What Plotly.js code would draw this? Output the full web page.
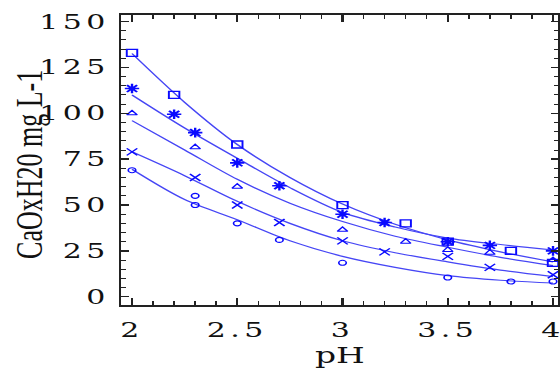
<!DOCTYPE html>
<html><head><meta charset="utf-8">
<script src="https://cdn.plot.ly/plotly-3.0.1.min.js"></script>
<style>
html,body{margin:0;padding:0;overflow:hidden;background:#fff;width:560px;height:373px}
#wrap{width:560px;height:373px;overflow:hidden;position:relative}
#chart{width:384px;height:373px;transform:scaleX(1.4973);transform-origin:0 0}
.xtick text,.ytick text{letter-spacing:3px}
</style></head><body><div id="wrap"><div id="chart"></div></div>
<script>
// measured points
const sqX = [2, 2.2, 2.5, 3, 3.3, 3.5, 3.8, 4];
const sqY = [133, 110, 83, 50, 40, 30, 25, 18.5];
const stX = [2, 2.2, 2.3, 2.5, 2.7, 3, 3.2, 3.5, 3.7, 4];
const stY = [113.5, 99.5, 89.5, 73, 60.5, 45, 40.5, 30, 28, 25];
const trX = [2, 2.3, 2.5, 3, 3.3, 3.5, 3.7, 4];
const trY = [100, 81.5, 60, 36.5, 30, 25.5, 24, 20];
const xxX = [2, 2.3, 2.5, 2.7, 3, 3.2, 3.5, 3.7, 4];
const xxY = [79, 65, 50, 40.5, 30.5, 24.5, 22, 16, 12];
const diX = [2, 2.3, 2.3, 2.5, 2.7, 3, 3.5, 3.8, 4];
const diY = [69, 55, 50, 40, 31, 18.5, 10.5, 8.3, 8.3];
// fitted curves
const curveX = [2, 2.25, 2.5, 2.75, 3, 3.25, 3.5, 3.75, 4];
const sqFit = [132.6, 106, 83, 65, 50.5, 39.5, 31, 24.5, 19];
const stFit = [110, 92, 75.5, 59.5, 46, 38, 32, 28.5, 25.5];
const trFit = [96, 80, 64, 51, 41, 33, 27, 21.5, 17];
const xxFit = [79, 66, 52, 40, 30.5, 24, 19, 14.5, 11];
const diFit = [69.5, 53, 42, 30.5, 22, 16, 11.5, 9, 7.5];
// ticks
const xTickVals = [2, 2.5, 3, 3.5, 4];
const xTickText = ['2', '2.5', '3', '3.5', '4'];
const yTickVals = [0, 25, 50, 75, 100, 125, 150];
const yTickText = ['0', '25', '50', '75', '100', '125', '150'];

const mc = '#0a0aff', lc = '#4646f5';
function line(y) {
  return {x: curveX, y: y, mode: 'lines', type: 'scatter', hoverinfo: 'skip',
    line: {color: lc, width: 1.2, shape: 'spline', smoothing: 0.9}, showlegend: false};
}
function pts(x, y, sym, size, w) {
  return {x: x, y: y, mode: 'markers', type: 'scatter', showlegend: false,
    marker: {symbol: sym, size: size, color: mc, line: {color: mc, width: w}}};
}
const data = [
  line(sqFit), line(stFit), line(trFit), line(xxFit), line(diFit),
  pts(sqX, sqY, 'square-open', 7, 1.3),
  pts(stX, stY, 'asterisk-open', 8, 1.6),
  pts(trX, trY, 'triangle-up-open', 6, 1.1),
  pts(xxX, xxY, 'x-thin-open', 7, 1.2),
  pts(diX, diY, 'circle-open', 5, 1.1),
  {x: [], y: [], xaxis: 'x2', yaxis: 'y2', type: 'scatter', mode: 'markers', showlegend: false}
];
const xRange = [1.949, 4.026], yRange = [-4.5, 153.6];
const axBase = {showline: true, linecolor: '#222', linewidth: 1.6, mirror: true,
  ticks: 'inside', tickcolor: '#222', tickwidth: 1.4, showgrid: false, zeroline: false,
  tickmode: 'array', tickfont: {family: 'DejaVu Serif', size: 20, color: '#111'}};
const xMinor = {dtick: 0.1, ticks: 'inside', ticklen: 4, tickcolor: '#222', tickwidth: 1};
const yMinor = {dtick: 5, ticks: 'inside', ticklen: 3, tickcolor: '#222', tickwidth: 1};
const layout = {
  width: 384, height: 373,
  margin: {l: 81, r: 11, t: 15, b: 68},
  paper_bgcolor: '#fff', plot_bgcolor: '#fff',
  xaxis: Object.assign({}, axBase, {
    range: xRange, tickvals: xTickVals, ticktext: xTickText, ticklen: 7,
    ticklabelstandoff: 6, minor: xMinor,
    title: {text: 'pH', font: {family: 'DejaVu Serif', size: 22, color: '#111'}, standoff: 7}
  }),
  yaxis: Object.assign({}, axBase, {
    range: yRange, tickvals: yTickVals, ticktext: yTickText, ticklen: 5,
    ticklabelstandoff: 2, minor: yMinor
  }),
  xaxis2: {overlaying: 'x', side: 'top', anchor: 'y2', range: xRange, tickmode: 'array',
    tickvals: xTickVals, showticklabels: false, ticks: 'inside', ticklen: 7, tickwidth: 1.4,
    tickcolor: '#222', showline: false, showgrid: false, zeroline: false, minor: xMinor},
  yaxis2: {overlaying: 'y', side: 'right', anchor: 'x2', range: yRange, tickmode: 'array',
    tickvals: yTickVals, showticklabels: false, ticks: 'inside', ticklen: 5, tickwidth: 1.4,
    tickcolor: '#222', showline: false, showgrid: false, zeroline: false, minor: yMinor},
  annotations: [{
    text: 'CaOxH20 mg L-1', xref: 'paper', yref: 'paper', x: -0.2089, y: 0.483,
    xanchor: 'center', yanchor: 'middle', textangle: -90, showarrow: false,
    font: {family: 'Liberation Serif', size: 26, color: '#111'}
  }]
};
Plotly.newPlot('chart', data, layout, {displayModeBar: false, staticPlot: true});
</script></body></html>
